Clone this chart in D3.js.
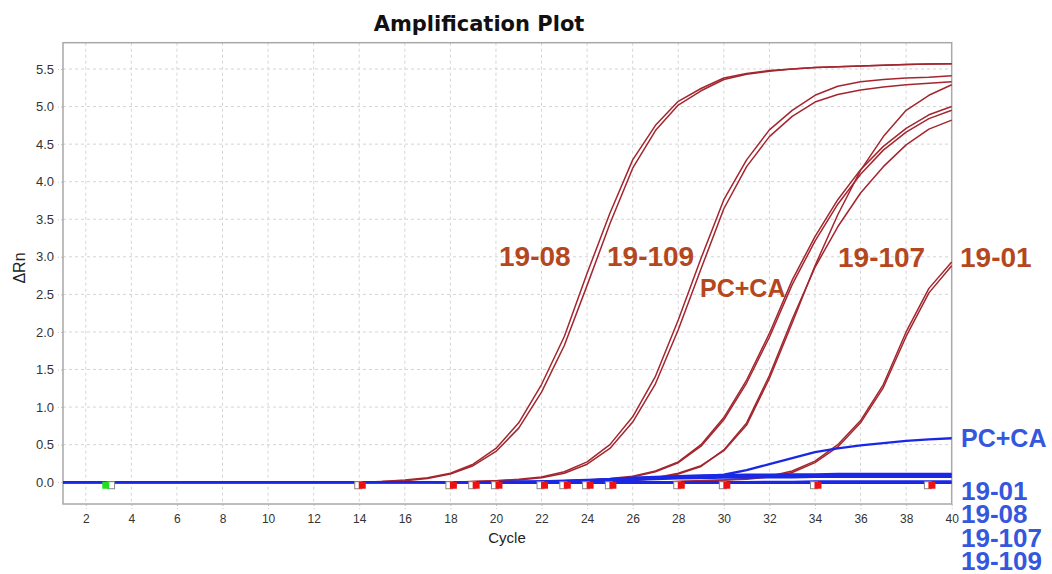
<!DOCTYPE html>
<html><head><meta charset="utf-8">
<script src="https://cdn.jsdelivr.net/npm/d3@7"></script>
<style>body{margin:0;background:#fff}svg{display:block}</style>
</head><body>
<svg id="chart" width="1052" height="574"></svg>
<script>
// ---------- data ----------
const cycles = [1,2,3,4,5,6,7,8,9,10,11,12,13,14,15,16,17,18,19,20,21,22,23,24,25,26,27,28,29,30,31,32,33,34,35,36,37,38,39,40];
const xTicks = [2,4,6,8,10,12,14,16,18,20,22,24,26,28,30,32,34,36,38,40];
const yTicks = [0.0,0.5,1.0,1.5,2.0,2.5,3.0,3.5,4.0,4.5,5.0,5.5];

// red (ΔRn of target) curves, one value per cycle 1..40
const red_19_08_a = [0,0,0,0,0,0,0,0,0,0,0,0,0,0,0.01,0.03,0.06,0.12,0.24,0.45,0.79,1.30,1.94,2.78,3.58,4.29,4.75,5.07,5.24,5.38,5.44,5.48,5.50,5.52,5.53,5.54,5.55,5.56,5.565,5.57];
const red_19_08_b = [0,0,0,0,0,0,0,0,0,0,0,0,0,0,0.01,0.02,0.05,0.11,0.22,0.41,0.72,1.20,1.82,2.62,3.44,4.18,4.68,5.02,5.21,5.36,5.43,5.47,5.50,5.52,5.53,5.54,5.55,5.56,5.565,5.57];
const red_19_109_a = [0,0,0,0,0,0,0,0,0,0,0,0,0,0,0,0,0,0,0.01,0.02,0.04,0.07,0.14,0.27,0.50,0.87,1.41,2.16,2.98,3.76,4.29,4.69,4.95,5.15,5.27,5.33,5.36,5.38,5.39,5.41];
const red_19_109_b = [0,0,0,0,0,0,0,0,0,0,0,0,0,0,0,0,0,0,0.01,0.02,0.03,0.06,0.12,0.24,0.45,0.80,1.31,2.03,2.84,3.64,4.20,4.60,4.87,5.06,5.16,5.22,5.26,5.29,5.31,5.33];
const red_pcca_a = [0,0,0,0,0,0,0,0,0,0,0,0,0,0,0,0,0,0,0,0,0,0.01,0.02,0.03,0.05,0.08,0.15,0.27,0.50,0.86,1.36,1.98,2.69,3.27,3.76,4.16,4.47,4.71,4.89,5.00];
const red_pcca_b = [0,0,0,0,0,0,0,0,0,0,0,0,0,0,0,0,0,0,0,0,0,0.01,0.02,0.03,0.04,0.07,0.14,0.26,0.48,0.83,1.32,1.93,2.63,3.21,3.70,4.10,4.42,4.66,4.84,4.95];
const red_19_107_a = [0,0,0,0,0,0,0,0,0,0,0,0,0,0,0,0,0,0,0,0,0,0,0,0.01,0.02,0.03,0.06,0.12,0.22,0.42,0.76,1.38,2.12,2.88,3.56,4.15,4.60,4.95,5.15,5.29];
const red_19_107_b = [0,0,0,0,0,0,0,0,0,0,0,0,0,0,0,0,0,0,0,0,0,0,0,0.01,0.01,0.02,0.05,0.11,0.21,0.43,0.79,1.42,2.17,2.86,3.40,3.85,4.20,4.49,4.70,4.82];
const red_19_01_a = [0,0,0,0,0,0,0,0,0,0,0,0,0,0,0,0,0,0,0,0,0,0,0,0,0,0,0,0.01,0.02,0.03,0.05,0.08,0.15,0.28,0.50,0.82,1.30,2.00,2.58,2.93];
const red_19_01_b = [0,0,0,0,0,0,0,0,0,0,0,0,0,0,0,0,0,0,0,0,0,0,0,0,0,0,0,0.01,0.02,0.03,0.04,0.07,0.13,0.26,0.47,0.79,1.26,1.94,2.52,2.88];

// blue (internal control) curves
const blue_pcca = [0,0,0,0,0,0,0,0,0,0,0,0,0,0,0,0,0,0,0,0,0.01,0.01,0.02,0.03,0.04,0.05,0.06,0.07,0.08,0.10,0.16,0.24,0.32,0.40,0.45,0.49,0.52,0.55,0.57,0.585];
const blue_19_01 = [0,0,0,0,0,0,0,0,0,0,0,0,0,0,0,0,0,0,0,0,0,0,0.01,0.02,0.04,0.06,0.07,0.08,0.09,0.095,0.10,0.10,0.105,0.105,0.11,0.11,0.11,0.11,0.11,0.11];
const blue_19_08 = [0,0,0,0,0,0,0,0,0,0,0,0,0,0,0,0,0,0,0,0,0,0.01,0.01,0.02,0.03,0.04,0.05,0.06,0.07,0.075,0.08,0.08,0.085,0.085,0.09,0.09,0.09,0.09,0.09,0.09];
const blue_19_107 = [0,0,0,0,0,0,0,0,0,0,0,0,0,0,0,0,0,0,0,0,0,0,0,0.01,0.02,0.03,0.04,0.05,0.055,0.06,0.06,0.065,0.065,0.07,0.07,0.07,0.07,0.07,0.07,0.07];
const blue_19_109 = [0,0,0,0,0,0,0,0,0,0,0,0,0,0,0,0,0,0,0,0,0,0,0,0,0,0,0,0,0,0,0,0.005,0.005,0.01,0.01,0.01,0.01,0.01,0.01,0.01];
const blue_ntc = [0,0,0,0,0,0,0,0,0,0,0,0,0,0,0,0,0,-0.005,-0.005,-0.01,-0.01,-0.01,-0.01,-0.01,-0.01,-0.01,-0.01,-0.01,-0.01,-0.01,-0.01,-0.01,-0.01,-0.01,-0.01,-0.01,-0.01,-0.01,-0.01,-0.01];

// threshold-cycle markers
const ctCycles = [14,18,19,20,22,23,24,25,28,30,34,39];
const startCycle = [3];
const markerLevel = -0.04;

const redLabels = ["19-08","19-109","PC+CA","19-107","19-01"];
const blueLabels = ["PC+CA","19-01","19-08","19-107","19-109"];

const redSeries = [red_19_08_a,red_19_08_b,red_19_109_a,red_19_109_b,red_pcca_a,red_pcca_b,red_19_107_a,red_19_107_b,red_19_01_a,red_19_01_b];
const blueSeries = [blue_ntc,blue_19_109,blue_19_107,blue_19_08,blue_19_01,blue_pcca];

// ---------- drawing ----------
const svg = d3.select("#chart");
const L = 63, R = 951.7, T = 42.7, B = 504;
const x = d3.scaleLinear().domain([1,40]).range([L,R]);
const y = d3.scaleLinear().domain([-0.29,5.85]).range([B,T]);

const font = "'Liberation Sans', Arial, sans-serif";

// title
svg.append("text").attr("x",479).attr("y",31).attr("text-anchor","middle")
  .attr("font-family","'DejaVu Sans', Verdana, sans-serif").attr("font-weight","bold")
  .attr("font-size",21).attr("fill","#111").text("Amplification Plot");

// grid
const grid = svg.append("g");
grid.selectAll(".vg").data(xTicks.filter(d=>d<40)).join("line")
  .attr("x1",d=>x(d)).attr("x2",d=>x(d)).attr("y1",T).attr("y2",B)
  .attr("stroke","#d4d4d4").attr("stroke-dasharray","3,3").attr("stroke-width",1);
grid.selectAll(".hg").data(yTicks).join("line")
  .attr("x1",L).attr("x2",R).attr("y1",d=>y(d)).attr("y2",d=>y(d))
  .attr("stroke","#d4d4d4").attr("stroke-dasharray","3,3").attr("stroke-width",1);

// axes
const xAxis = svg.append("g").attr("transform",`translate(0,${B})`)
  .call(d3.axisBottom(x).tickValues(xTicks).tickSize(5).tickPadding(5).tickFormat(d3.format("d")));
xAxis.select(".domain").remove();
xAxis.selectAll("line").attr("stroke","#c8c8c8").attr("stroke-dasharray","2,2");
xAxis.selectAll("text").attr("font-family",font).attr("font-size",12).attr("fill","#333");

const yAxis = svg.append("g").attr("transform",`translate(${L},0)`)
  .call(d3.axisLeft(y).tickValues(yTicks).tickSize(5).tickPadding(4).tickFormat(d3.format(".1f")));
yAxis.select(".domain").remove();
yAxis.selectAll("line").attr("stroke","#c8c8c8").attr("stroke-dasharray","2,2");
yAxis.selectAll("text").attr("font-family",font).attr("font-size",13).attr("fill","#333");

// frame
svg.append("rect").attr("x",L).attr("y",T).attr("width",R-L).attr("height",B-T)
  .attr("fill","none").attr("stroke","#a8a8a8").attr("stroke-width",1.5);

// axis titles
svg.append("text").attr("x",507).attr("y",543).attr("text-anchor","middle")
  .attr("font-family",font).attr("font-size",15).attr("fill","#222").text("Cycle");
svg.append("text").attr("transform","translate(25,268) rotate(-90)").attr("text-anchor","middle")
  .attr("font-family",font).attr("font-size",16).attr("fill","#222").text("ΔRn");

// curves
const line = d3.line().x((d,i)=>x(cycles[i])).y(d=>y(d));
const curves = svg.append("g");
curves.selectAll(".red").data(redSeries).join("path")
  .attr("d",line).attr("fill","none").attr("stroke","#a3262f").attr("stroke-width",1.5)
  .attr("stroke-linejoin","round");
curves.selectAll(".blue").data(blueSeries).join("path")
  .attr("d",line).attr("fill","none").attr("stroke","#1a28e6").attr("stroke-width",(d,i)=>i===blueSeries.length-1?2.4:2.2)
  .attr("stroke-linejoin","round");

// markers
const mk = svg.append("g");
const ms = 7;
mk.selectAll(".sg").data(startCycle).join("rect")
  .attr("x",d=>x(d)+2.5-ms/2).attr("y",y(markerLevel)-ms/2).attr("width",ms).attr("height",ms)
  .attr("fill","#fff").attr("stroke","#888").attr("stroke-width",1);
mk.selectAll(".sgr").data(startCycle).join("rect")
  .attr("x",d=>x(d)-2.8-ms/2).attr("y",y(markerLevel)-ms/2).attr("width",ms).attr("height",ms)
  .attr("fill","#22dd22");
mk.selectAll(".cg").data(ctCycles).join("rect")
  .attr("x",d=>x(d)-1-ms/2).attr("y",y(markerLevel)-ms/2).attr("width",ms).attr("height",ms)
  .attr("fill","#fff").attr("stroke","#888").attr("stroke-width",1);
mk.selectAll(".cr").data(ctCycles).join("rect")
  .attr("x",d=>x(d)+3-ms/2).attr("y",y(markerLevel)-ms/2).attr("width",ms).attr("height",ms)
  .attr("fill","#ee1111");

// annotation labels (red)
const redPos = [[499,266,28],[607,266,28],[700,297,25],[838,267,28],[960,267,28]];
svg.append("g").selectAll("text").data(redLabels).join("text")
  .attr("x",(d,i)=>redPos[i][0]).attr("y",(d,i)=>redPos[i][1])
  .attr("font-size",(d,i)=>redPos[i][2])
  .attr("font-family",font).attr("font-weight","bold").attr("fill","#b4471e").text(d=>d);

// legend labels (blue)
const bluePos = [[961,447,25],[961,500,26],[961,523,26],[961,547,26],[961,570,26]];
svg.append("g").selectAll("text").data(blueLabels).join("text")
  .attr("x",(d,i)=>bluePos[i][0]).attr("y",(d,i)=>bluePos[i][1])
  .attr("font-size",(d,i)=>bluePos[i][2])
  .attr("font-family",font).attr("font-weight","bold").attr("fill","#3557de").text(d=>d);
</script>
</body></html>
